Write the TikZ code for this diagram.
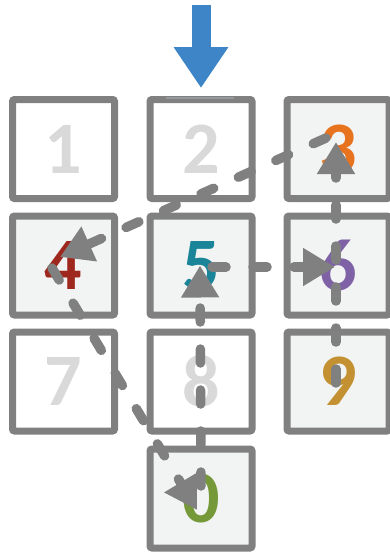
\documentclass[tikz,border=0pt]{standalone}
\usepackage{fontspec}
\newfontfamily\digitfont{Carlito}
\usepackage{tikz}
\usetikzlibrary{arrows.meta, calc}
\definecolor{mygray}{RGB}{128,128,128}
\definecolor{lightfill}{RGB}{242,243,243}
\definecolor{palegray}{RGB}{217,217,217}
\definecolor{myorange}{RGB}{232,115,30}
\definecolor{myred}{RGB}{158,40,30}
\definecolor{myteal}{RGB}{26,132,153}
\definecolor{mypurple}{RGB}{127,98,166}
\definecolor{mygold}{RGB}{195,145,49}
\definecolor{mygreen}{RGB}{117,152,57}
\definecolor{myblue}{RGB}{61,133,198}
\definecolor{hilite}{RGB}{150,153,160}
\tikzset{
  keybox/.style={rectangle, draw=mygray, fill=white, line width=7pt,
    minimum width=102pt, minimum height=99pt, rounded corners=2pt, inner sep=0pt,
    font=\digitfont\bfseries\fontsize{74}{74}\selectfont, text=palegray},
  keyfill/.style={keybox, fill=lightfill},
  hop/.style={draw=mygray, line width=9.5pt, line cap=round,
    dash pattern=on 14pt off 27pt, -{Triangle[length=32pt, width=36pt]}},
  entryarrow/.style={draw=myblue, line width=19pt,
    -{Triangle[length=41pt, width=52pt]}}
}

\begin{document}
\begin{tikzpicture}[x=1pt, y=-1pt]
  \useasboundingbox (0,0) rectangle (389,552);

  % Keys, row by row
  % row 1
  \node[keybox] (b1) at (63.5,149) {1};
  \node[keybox] (b2) at (201,149) {2};
  \node[keyfill, text=myorange] (b3) at (338,149) {3};
  % row 2
  \node[keyfill, text=myred] (b4) at (63.5,265.5) {4};
  \node[keyfill, text=myteal] (b5) at (201,265.5) {5};
  \node[keyfill, text=mypurple] (b6) at (338,265.5) {6};
  % row 3
  \node[keybox] (b7) at (63.5,381.5) {7};
  \node[keybox] (b8) at (201,381.5) {8};
  \node[keyfill, text=mygold] (b9) at (338,381.5) {9};
  % row 4
  \node[keyfill, text=mygreen] (b0) at (201,498.5) {0};

  % Entry arrow onto key 2
  \coordinate (entry) at (201,5);
  \draw[entryarrow] (entry) -- ($(b2.north)+(0,-8)$);
  \draw[hilite, line width=2pt] ($(b2.north)+(-35,2)$) -- ($(b2.north)+(33,2)$);

  % Hops between keys
  \draw[hop] ($(b3.center)+(-12,-11)$) -- ($(b4.center)+(-3.5,-8.5)$);
  \draw[hop] ($(b4.center)+(-11.5,2.5)$) -- ($(b0.center)+(-4,11.5)$);
  \draw[hop] ($(b0.center)+(0,-12.5)$) -- ($(b5.center)+(-1,0)$);
  \draw[hop] ($(b5.center)+(11,1.5)$) -- ($(b6.center)+(-3,1.5)$);
  \draw[hop] ($(b9.center)+(-2,1.5)$) -- ($(b3.center)+(-2,-7)$);
\end{tikzpicture}
\end{document}
